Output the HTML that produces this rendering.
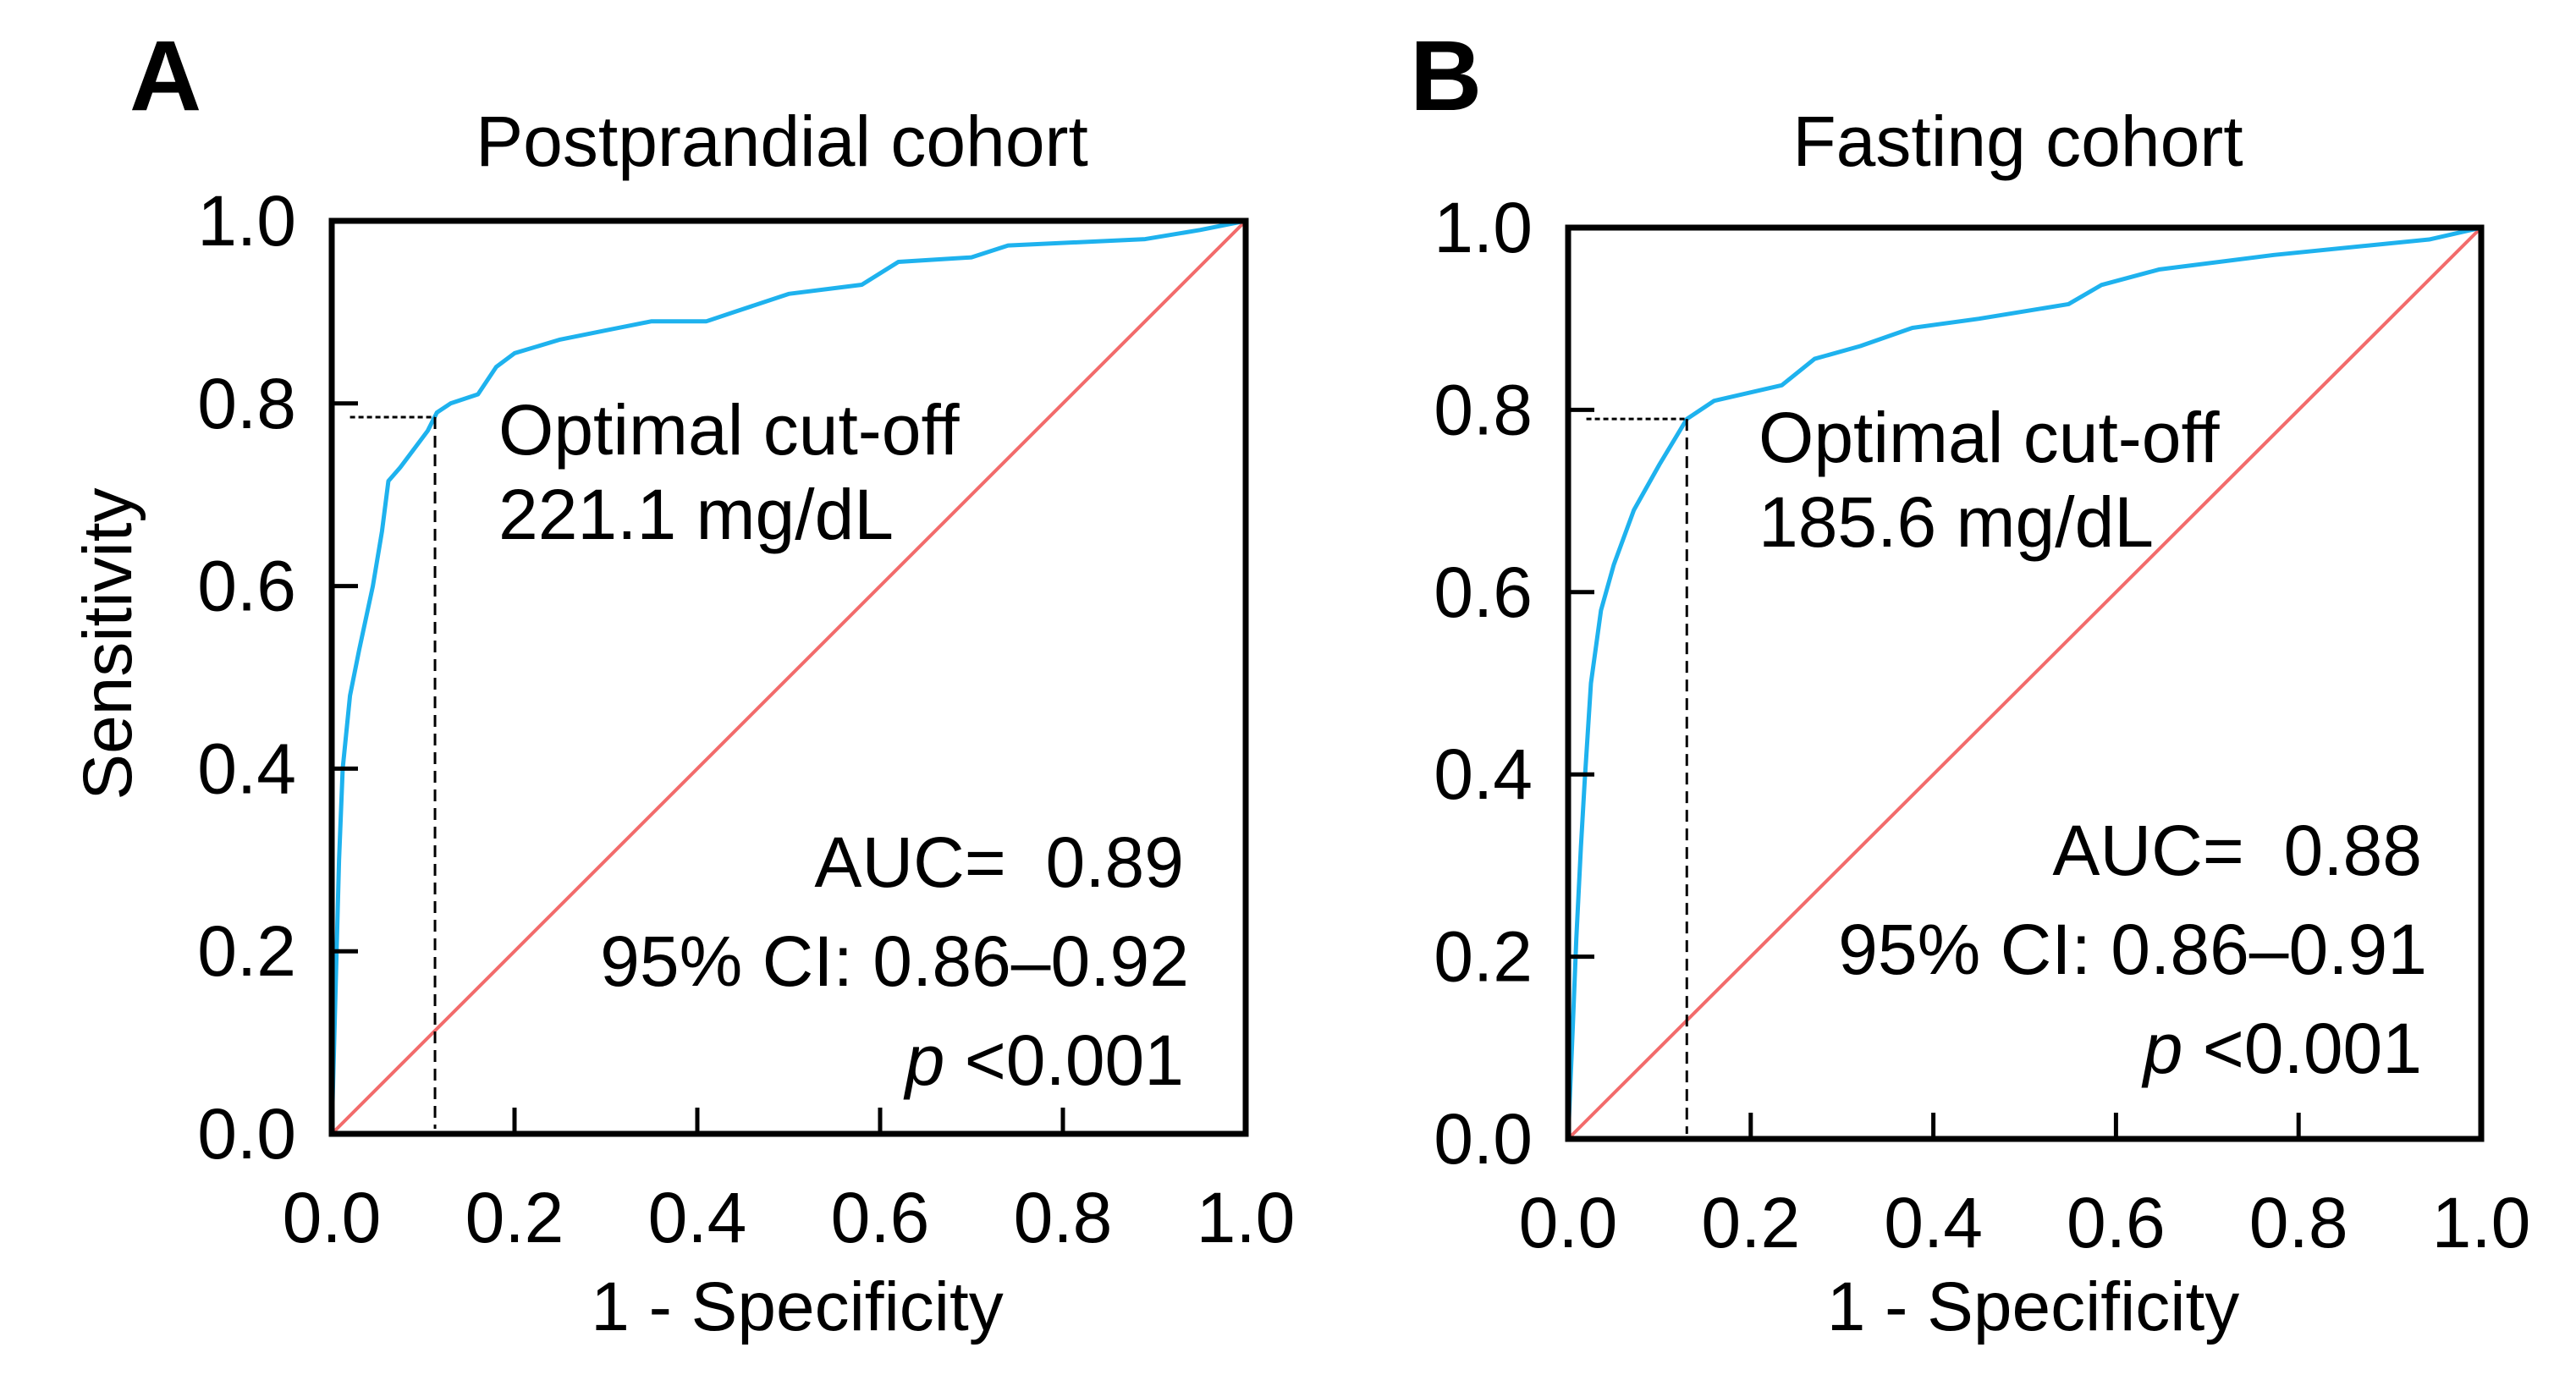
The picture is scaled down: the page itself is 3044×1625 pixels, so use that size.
<!DOCTYPE html>
<html><head><meta charset="utf-8"><style>
html,body{margin:0;padding:0;background:#fff;}
svg{display:block;font-family:"Liberation Sans",Arial,sans-serif;}
</style></head><body>
<svg id="fig" width="3044" height="1625" viewBox="0 0 3044 1625" xmlns="http://www.w3.org/2000/svg"></svg>
<script>
const xTicks = [0, 0.2, 0.4, 0.6, 0.8, 1.0];
const yTicks = [0, 0.2, 0.4, 0.6, 0.8, 1.0];
const tickLabels = ["0.0","0.2","0.4","0.6","0.8","1.0"];
const fprA = [0,0.004,0.008,0.012,0.02,0.03,0.045,0.055,0.062,0.075,0.09,0.105,0.115,0.13,0.16,0.18,0.2,0.25,0.3,0.35,0.41,0.44,0.5,0.58,0.62,0.7,0.74,0.89,0.95,1];
const tprA = [0,0.15,0.3,0.4,0.48,0.53,0.6,0.66,0.715,0.73,0.75,0.77,0.79,0.8,0.81,0.84,0.855,0.87,0.88,0.89,0.89,0.9,0.92,0.93,0.955,0.96,0.973,0.98,0.99,1];
const fprB = [0,0.005,0.009,0.014,0.018,0.025,0.036,0.05,0.072,0.1,0.13,0.16,0.234,0.27,0.32,0.377,0.45,0.548,0.584,0.647,0.773,0.943,1];
const tprB = [0,0.12,0.22,0.32,0.39,0.5,0.58,0.63,0.69,0.74,0.79,0.81,0.827,0.856,0.87,0.89,0.9,0.916,0.937,0.954,0.97,0.987,1];
const cutA = [0.113, 0.785];
const cutB = [0.13, 0.79];

const NS="http://www.w3.org/2000/svg";
const svg=document.getElementById('fig');
function mk(tag,attrs,parent){const e=document.createElementNS(NS,tag);for(const k in attrs)e.setAttribute(k,attrs[k]);(parent||svg).appendChild(e);return e;}
function txt(s,attrs,parent){const e=mk('text',attrs,parent);e.textContent=s;return e;}

function panel(p){
  const g=mk('g',{});
  
  
  const X=v=>p.x0+v*(p.x1-p.x0), Y=v=>p.y1-v*(p.y1-p.y0);
  const d=mk('line',{x1:X(0),y1:Y(0),x2:X(1),y2:Y(1),stroke:'#f26b6b','stroke-width':4},g);
  
  
  const pts=p.fpr.map((f,i)=>X(f)+','+Y(p.tpr[i])).join(' ');
  const c=mk('polyline',{points:pts,fill:'none',stroke:'#1eb2ee','stroke-width':5,'stroke-linejoin':'round'},g);
  
  
  const h=mk('line',{x1:X(0.02),y1:Y(p.cut[1]),x2:X(p.cut[0]),y2:Y(p.cut[1]),stroke:'#000','stroke-width':3,'stroke-dasharray':'6,4'},g);
  
  
  const v=mk('line',{x1:X(p.cut[0]),y1:Y(p.cut[1]),x2:X(p.cut[0]),y2:Y(0)-6,stroke:'#000','stroke-width':3,'stroke-dasharray':'14,8'},g);
  
  
  const fr=mk('rect',{x:p.x0,y:p.y0,width:p.x1-p.x0,height:p.y1-p.y0,fill:'none',stroke:'#000','stroke-width':7},g);
  
  
  yTicks.forEach((t,i)=>{
    const tk=mk('line',{x1:p.x0,y1:Y(t),x2:p.x0+31,y2:Y(t),stroke:'#000','stroke-width':5},g);
    
    
    const l=txt(tickLabels[i],{x:p.x0-42,y:Y(t)+29,'text-anchor':'end','font-size':84},g);
    
    
  });
  xTicks.forEach((t,i)=>{
    const tk=mk('line',{x1:X(t),y1:p.y1,x2:X(t),y2:p.y1-31,stroke:'#000','stroke-width':5},g);
    
    
    const l=txt(tickLabels[i],{x:X(t),y:p.y1+128,'text-anchor':'middle','font-size':84},g);
    
    
  });
  const xt=txt('1 - Specificity',{x:(p.x0+p.x1)/2+10,y:1572,'text-anchor':'middle','font-size':82},g);
  
  
  const tt=txt(p.title,{x:(p.x0+p.x1)/2-8,y:196,'text-anchor':'middle','font-size':84},g);
  
  
  const lt=txt(p.letter,{x:p.lx,y:130,'font-size':118,'font-weight':'bold'},g);
  
  
  const o1=txt('Optimal cut-off',{x:p.ox,y:p.oy,'font-size':84},g);
  
  
  const o2=txt(p.cutText,{x:p.ox,y:p.oy+100,'font-size':84},g);
  
  
  const a=txt(p.auc,{x:p.ax,y:p.ay,'text-anchor':'end','font-size':84},g);
  
  
  const ci=txt(p.ci,{x:p.ax+6,y:p.ay+117,'text-anchor':'end','font-size':84},g);
  
  
  const pv=mk('text',{x:p.ax,y:p.ay+234,'text-anchor':'end','font-size':84},g);
  
  
  const it=mk('tspan',{'font-style':'italic'},pv); it.textContent='p';
  const rest=mk('tspan',{},pv); rest.textContent='\u00a0<0.001';
}

panel({name:'panel-a-postprandial',x0:392,x1:1472,y0:261,y1:1340,fpr:fprA,tpr:tprA,cut:cutA,title:'Postprandial cohort',letter:'A',lx:153,ox:589,oy:537,cutText:'221.1 mg/dL',auc:'AUC=\u00a0\u00a00.89',ci:'95% CI: 0.86–0.92',ax:1399,ay:1048});
panel({name:'panel-b-fasting',x0:1853,x1:2932,y0:269,y1:1346,fpr:fprB,tpr:tprB,cut:cutB,title:'Fasting cohort',letter:'B',lx:1666,ox:2078,oy:546,cutText:'185.6 mg/dL',auc:'AUC=\u00a0\u00a00.88',ci:'95% CI: 0.86–0.91',ax:2862,ay:1034});

const ys=txt('Sensitivity',{x:0,y:0,'text-anchor':'middle','font-size':82,transform:'translate(155,761) rotate(-90)'});


</script>
</body></html>
